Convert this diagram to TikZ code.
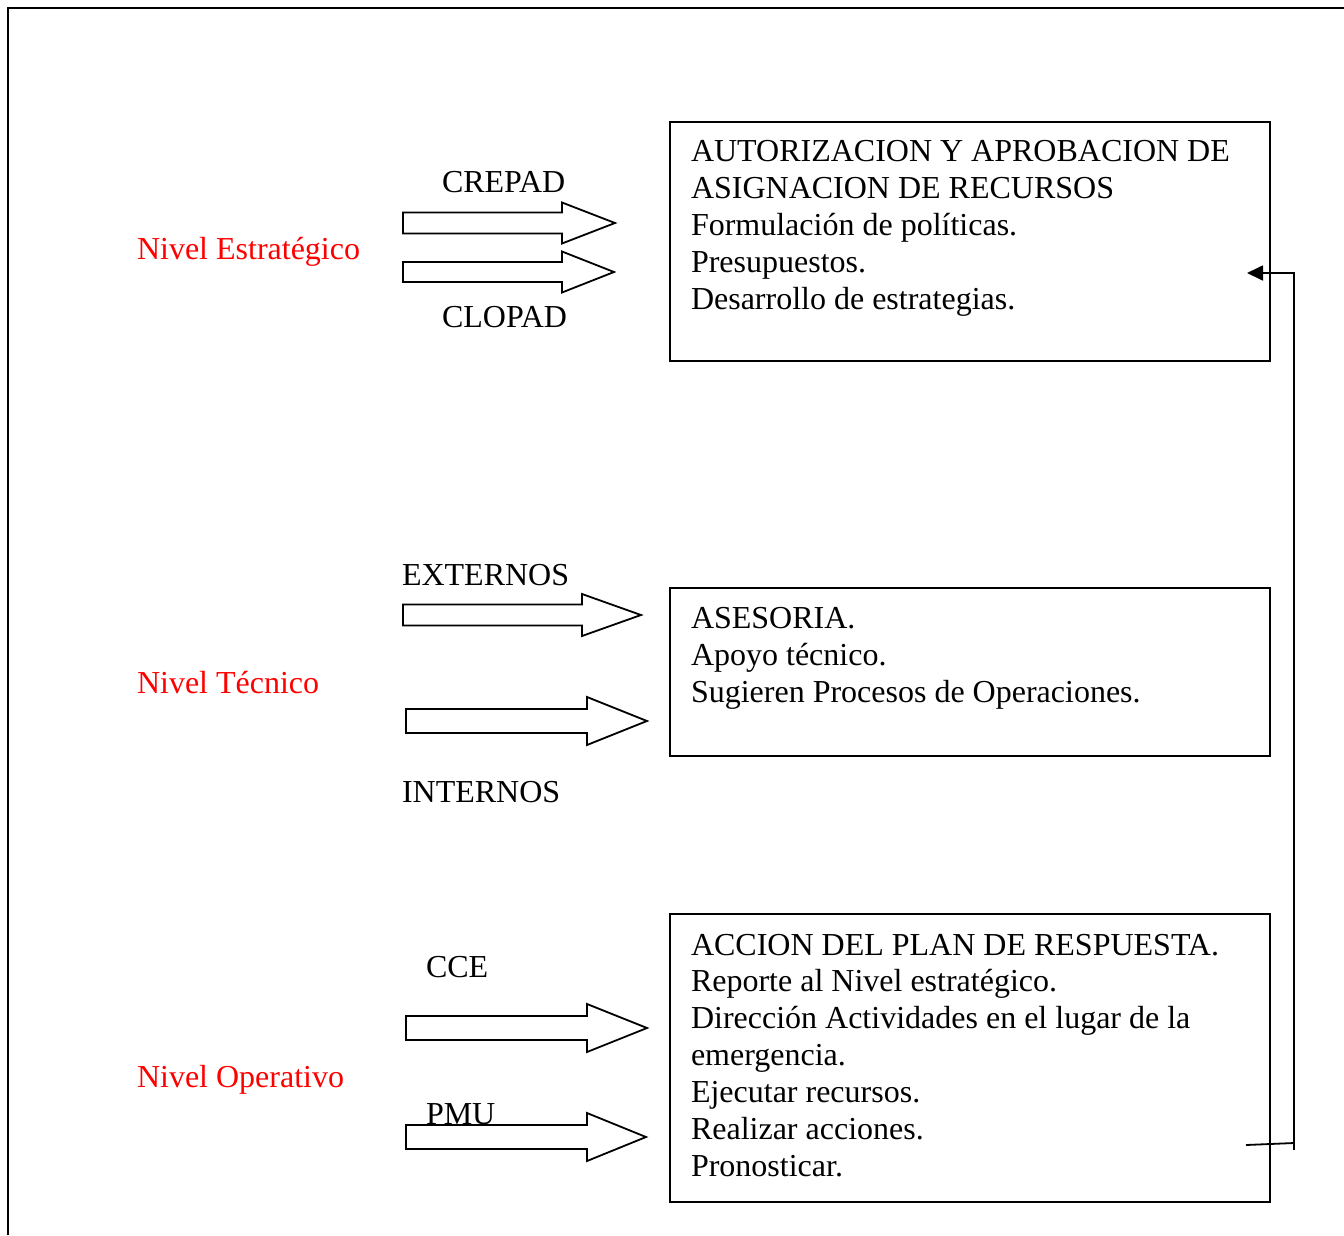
\documentclass[tikz,border=0pt]{standalone}
\usepackage{fontspec}
\setmainfont{Liberation Serif}
\usetikzlibrary{arrows.meta}
\newcommand\blockarr[6]{% left, base, tip, cy, body half, head half
  \draw[arrowshape] (#1,#4-#5) -- (#2,#4-#5) -- (#2,#4-#6) -- (#3,#4) -- (#2,#4+#6) -- (#2,#4+#5) -- (#1,#4+#5) -- cycle;}
\begin{document}
\begin{tikzpicture}[x=1pt,y=-1pt,
  every node/.style={inner sep=0pt, outer sep=0pt, anchor=base west, font=\fontsize{32}{37}\selectfont},
  lbl/.style={text=black},
  level/.style={text=red},
  boxtxt/.style={align=left, text=black},
  panel/.style={draw, line width=1.8pt, anchor=north west},
  arrowshape/.style={draw, line width=1.8pt, fill=white, line join=miter},
  frame/.style={line width=2.6pt},
  feedback/.style={line width=1.8pt}]
\useasboundingbox (0,0) rectangle (1344,1235);
% outer frame
\draw[frame] (8,1235) -- (8,8) -- (1344,8);

% panels
\node[panel, minimum width=600pt, minimum height=239pt] (box1) at (670,122) {};
\node[panel, minimum width=600pt, minimum height=168pt] (box2) at (670,588) {};
\node[panel, minimum width=600pt, minimum height=288pt] (box3) at (670,914) {};

% panel texts
\node[boxtxt] (t1a) at (691,161) {AUTORIZACION Y APROBACION DE};
\node[boxtxt] (t1b) at (691,198) {ASIGNACION DE RECURSOS};
\node[boxtxt] (t1c) at (691,235) {Formulación de políticas.};
\node[boxtxt] (t1d) at (691,272) {Presupuestos.};
\node[boxtxt] (t1e) at (691,309) {Desarrollo de estrategias.};

\node[boxtxt] (t2a) at (691,628) {ASESORIA.};
\node[boxtxt] (t2b) at (691,665) {Apoyo técnico.};
\node[boxtxt] (t2c) at (691,702) {Sugieren Procesos de Operaciones.};

\node[boxtxt] (t3a) at (691,955) {ACCION DEL PLAN DE RESPUESTA.};
\node[boxtxt] (t3b) at (691,991) {Reporte al Nivel estratégico.};
\node[boxtxt] (t3c) at (691,1028) {Dirección Actividades en el lugar de la};
\node[boxtxt] (t3d) at (691,1065) {emergencia.};
\node[boxtxt] (t3e) at (691,1102) {Ejecutar recursos.};
\node[boxtxt] (t3f) at (691,1139) {Realizar acciones.};
\node[boxtxt] (t3g) at (691,1176) {Pronosticar.};

% level labels
\node[level] (lv1) at (137,259) {Nivel Estratégico};
\node[level] (lv2) at (137,693) {Nivel Técnico};
\node[level] (lv3) at (137,1087) {Nivel Operativo};

% block arrows
\blockarr{403}{562}{615}{223}{10.5}{20.5}
\blockarr{403}{562}{614}{272}{10}{20.5}
\blockarr{403}{582}{641}{615}{10.5}{21}
\blockarr{406}{587}{647}{721}{12}{24}
\blockarr{406}{587}{647}{1028}{12}{24}
\blockarr{406}{587}{646}{1137}{12}{24}

% arrow labels
\node[lbl] (crepad) at (442,192) {CREPAD};
\node[lbl] (clopad) at (442,327) {CLOPAD};
\node[lbl] (ext) at (402,585) {EXTERNOS};
\node[lbl] (int) at (402,802) {INTERNOS};
\node[lbl] (cce) at (426,977) {CCE};
\node[lbl] (pmu) at (426,1124) {PMU};

% feedback connector
\coordinate (fbStart) at (1246,1145);
\coordinate (fbJoin) at (1294,1143);
\coordinate (fbLow) at (1294,1150);
\coordinate (fbTop) at (1294,273);
\coordinate (fbEnd) at (1247,273);
\draw[feedback] (fbStart) -- (fbJoin);
\draw[feedback, -{Triangle[length=16pt,width=15pt]}] (fbLow) -- (fbTop) -- (fbEnd);
\end{tikzpicture}
\end{document}
